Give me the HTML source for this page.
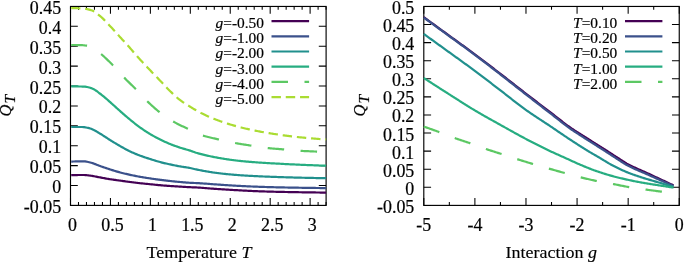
<!DOCTYPE html>
<html><head><meta charset="utf-8"><title>Q_T plots</title>
<style>html,body{margin:0;padding:0;background:#fff}svg{display:block}</style></head>
<body>
<svg width="685" height="262" viewBox="0 0 685 262" font-family="'Liberation Serif', serif" fill="#000" stroke="#000" stroke-width="0.2" paint-order="stroke">
<rect width="685" height="262" fill="#fff" stroke="none"/>
<path d="M70.50,205.40v-7.30M70.50,6.45v7.30M110.44,205.40v-7.30M110.44,6.45v7.30M150.37,205.40v-7.30M150.37,6.45v7.30M190.31,205.40v-7.30M190.31,6.45v7.30M230.24,205.40v-7.30M230.24,6.45v7.30M270.18,205.40v-7.30M270.18,6.45v7.30M310.11,205.40v-7.30M310.11,6.45v7.30M78.49,205.40v-3.40M78.49,6.45v3.40M86.47,205.40v-3.40M86.47,6.45v3.40M94.46,205.40v-3.40M94.46,6.45v3.40M102.45,205.40v-3.40M102.45,6.45v3.40M118.42,205.40v-3.40M118.42,6.45v3.40M126.41,205.40v-3.40M126.41,6.45v3.40M134.40,205.40v-3.40M134.40,6.45v3.40M142.38,205.40v-3.40M142.38,6.45v3.40M158.36,205.40v-3.40M158.36,6.45v3.40M166.34,205.40v-3.40M166.34,6.45v3.40M174.33,205.40v-3.40M174.33,6.45v3.40M182.32,205.40v-3.40M182.32,6.45v3.40M198.29,205.40v-3.40M198.29,6.45v3.40M206.28,205.40v-3.40M206.28,6.45v3.40M214.27,205.40v-3.40M214.27,6.45v3.40M222.25,205.40v-3.40M222.25,6.45v3.40M238.23,205.40v-3.40M238.23,6.45v3.40M246.21,205.40v-3.40M246.21,6.45v3.40M254.20,205.40v-3.40M254.20,6.45v3.40M262.19,205.40v-3.40M262.19,6.45v3.40M278.16,205.40v-3.40M278.16,6.45v3.40M286.15,205.40v-3.40M286.15,6.45v3.40M294.14,205.40v-3.40M294.14,6.45v3.40M302.12,205.40v-3.40M302.12,6.45v3.40M318.10,205.40v-3.40M318.10,6.45v3.40M326.08,205.40v-3.40M326.08,6.45v3.40M70.50,205.40h7.30M326.10,205.40h-7.30M70.50,185.50h7.30M326.10,185.50h-7.30M70.50,165.61h7.30M326.10,165.61h-7.30M70.50,145.72h7.30M326.10,145.72h-7.30M70.50,125.82h7.30M326.10,125.82h-7.30M70.50,105.93h7.30M326.10,105.93h-7.30M70.50,86.03h7.30M326.10,86.03h-7.30M70.50,66.14h7.30M326.10,66.14h-7.30M70.50,46.24h7.30M326.10,46.24h-7.30M70.50,26.34h7.30M326.10,26.34h-7.30M70.50,6.45h7.30M326.10,6.45h-7.30" fill="none" stroke="#000" stroke-width="1.05"/>
<rect x="70.50" y="6.45" width="255.60" height="198.95" fill="none" stroke="#000" stroke-width="1.15"/>
<g font-size="17.90" text-anchor="end">
<text transform="translate(61.1,212.90) scale(1,1.060)">-0.05</text>
<text transform="translate(61.1,193.00) scale(1,1.060)">0</text>
<text transform="translate(61.1,173.11) scale(1,1.060)">0.05</text>
<text transform="translate(61.1,153.22) scale(1,1.060)">0.1</text>
<text transform="translate(61.1,133.32) scale(1,1.060)">0.15</text>
<text transform="translate(61.1,113.43) scale(1,1.060)">0.2</text>
<text transform="translate(61.1,93.53) scale(1,1.060)">0.25</text>
<text transform="translate(61.1,73.64) scale(1,1.060)">0.3</text>
<text transform="translate(61.1,53.74) scale(1,1.060)">0.35</text>
<text transform="translate(61.1,33.84) scale(1,1.060)">0.4</text>
<text transform="translate(61.1,13.95) scale(1,1.060)">0.45</text>
</g>
<g font-size="17.90" text-anchor="middle">
<text transform="translate(72.50,231.1) scale(1,1.060)">0</text>
<text transform="translate(112.44,231.1) scale(1,1.060)">0.5</text>
<text transform="translate(152.37,231.1) scale(1,1.060)">1</text>
<text transform="translate(192.31,231.1) scale(1,1.060)">1.5</text>
<text transform="translate(232.24,231.1) scale(1,1.060)">2</text>
<text transform="translate(272.18,231.1) scale(1,1.060)">2.5</text>
<text transform="translate(312.11,231.1) scale(1,1.060)">3</text>
</g>
<text transform="translate(199.0,257.7) scale(1,0.970)" font-size="18.00" stroke-width="0.15" text-anchor="middle">Temperature <tspan font-style="italic">T</tspan></text>
<g transform="translate(11.00,116.50) rotate(-90)"><text x="0" y="0" font-size="16.4" font-style="italic">Q<tspan font-size="15.4" dx="1.1" dy="4.0">T</tspan></text></g>
<g fill="none" stroke-width="2.20" stroke-linejoin="round">
<path d="M71.20,175.20 L72.20,175.16 L73.20,175.12 L74.20,175.09 L75.20,175.06 L76.20,175.05 L77.20,175.03 L78.20,175.02 L79.20,175.01 L80.20,175.01 L81.20,175.00 L82.20,175.00 L83.20,175.00 L84.20,175.00 L85.20,175.04 L86.20,175.12 L87.20,175.23 L88.20,175.36 L89.20,175.50 L90.20,175.63 L91.20,175.77 L92.20,175.92 L93.20,176.10 L94.20,176.28 L95.20,176.47 L96.20,176.67 L97.20,176.87 L98.20,177.06 L99.20,177.25 L100.20,177.44 L101.20,177.62 L102.20,177.80 L103.20,177.99 L104.20,178.18 L105.20,178.37 L106.20,178.55 L107.20,178.73 L108.20,178.90 L109.20,179.07 L110.20,179.23 L111.20,179.38 L112.20,179.53 L113.20,179.67 L114.20,179.81 L115.20,179.95 L116.20,180.08 L117.20,180.22 L118.20,180.35 L119.20,180.49 L120.20,180.63 L121.20,180.77 L122.20,180.91 L123.20,181.06 L124.20,181.20 L125.20,181.34 L126.20,181.48 L127.20,181.62 L128.20,181.76 L129.20,181.90 L130.20,182.03 L131.20,182.15 L132.20,182.28 L133.20,182.41 L134.20,182.53 L135.20,182.65 L136.20,182.77 L137.20,182.89 L138.20,183.00 L139.20,183.11 L140.20,183.22 L141.20,183.33 L142.20,183.43 L143.20,183.53 L144.20,183.63 L145.20,183.73 L146.20,183.83 L147.20,183.93 L148.20,184.02 L149.20,184.12 L150.20,184.22 L151.20,184.32 L152.20,184.42 L153.20,184.53 L154.20,184.63 L155.20,184.73 L156.20,184.84 L157.20,184.94 L158.20,185.03 L159.20,185.13 L160.20,185.22 L161.20,185.31 L162.20,185.39 L163.20,185.48 L164.20,185.56 L165.20,185.64 L166.20,185.72 L167.20,185.80 L168.20,185.87 L169.20,185.94 L170.20,186.01 L171.20,186.08 L172.20,186.14 L173.20,186.20 L174.20,186.26 L175.20,186.32 L176.20,186.38 L177.20,186.44 L178.20,186.49 L179.20,186.55 L180.20,186.61 L181.20,186.67 L182.20,186.74 L183.20,186.80 L184.20,186.86 L185.20,186.93 L186.20,186.99 L187.20,187.05 L188.20,187.10 L189.20,187.16 L190.20,187.21 L191.20,187.26 L192.20,187.30 L193.20,187.34 L194.20,187.37 L195.20,187.42 L196.20,187.46 L197.20,187.51 L198.20,187.57 L199.20,187.63 L200.20,187.69 L201.20,187.76 L202.20,187.83 L203.20,187.91 L204.20,187.99 L205.20,188.07 L206.20,188.15 L207.20,188.23 L208.20,188.31 L209.20,188.40 L210.20,188.48 L211.20,188.56 L212.20,188.64 L213.20,188.72 L214.20,188.80 L215.20,188.87 L216.20,188.95 L217.20,189.01 L218.20,189.08 L219.20,189.14 L220.20,189.21 L221.20,189.27 L222.20,189.34 L223.20,189.40 L224.20,189.46 L225.20,189.52 L226.20,189.58 L227.20,189.64 L228.20,189.70 L229.20,189.76 L230.20,189.82 L231.20,189.88 L232.20,189.93 L233.20,189.99 L234.20,190.05 L235.20,190.10 L236.20,190.16 L237.20,190.21 L238.20,190.27 L239.20,190.32 L240.20,190.38 L241.20,190.43 L242.20,190.49 L243.20,190.54 L244.20,190.59 L245.20,190.65 L246.20,190.70 L247.20,190.75 L248.20,190.80 L249.20,190.85 L250.20,190.90 L251.20,190.95 L252.20,191.00 L253.20,191.04 L254.20,191.09 L255.20,191.13 L256.20,191.17 L257.20,191.21 L258.20,191.24 L259.20,191.28 L260.20,191.32 L261.20,191.35 L262.20,191.38 L263.20,191.42 L264.20,191.45 L265.20,191.48 L266.20,191.51 L267.20,191.54 L268.20,191.57 L269.20,191.60 L270.20,191.63 L271.20,191.65 L272.20,191.68 L273.20,191.71 L274.20,191.73 L275.20,191.76 L276.20,191.78 L277.20,191.80 L278.20,191.83 L279.20,191.85 L280.20,191.87 L281.20,191.90 L282.20,191.92 L283.20,191.94 L284.20,191.96 L285.20,191.98 L286.20,192.00 L287.20,192.02 L288.20,192.04 L289.20,192.06 L290.20,192.08 L291.20,192.10 L292.20,192.12 L293.20,192.14 L294.20,192.15 L295.20,192.17 L296.20,192.19 L297.20,192.20 L298.20,192.22 L299.20,192.24 L300.20,192.25 L301.20,192.27 L302.20,192.28 L303.20,192.30 L304.20,192.32 L305.20,192.33 L306.20,192.35 L307.20,192.36 L308.20,192.38 L309.20,192.39 L310.20,192.40 L311.20,192.42 L312.20,192.43 L313.20,192.45 L314.20,192.46 L315.20,192.47 L316.20,192.49 L317.20,192.50 L318.20,192.51 L319.20,192.52 L320.20,192.54 L321.20,192.55 L322.20,192.56 L323.20,192.57 L324.20,192.58 L325.20,192.59 L326.10,192.60" stroke="#440154"/>
<path d="M71.20,161.60 L72.20,161.56 L73.20,161.52 L74.20,161.49 L75.20,161.46 L76.20,161.45 L77.20,161.43 L78.20,161.42 L79.20,161.41 L80.20,161.41 L81.20,161.40 L82.20,161.40 L83.20,161.40 L84.20,161.40 L85.20,161.46 L86.20,161.59 L87.20,161.77 L88.20,161.99 L89.20,162.22 L90.20,162.45 L91.20,162.70 L92.20,163.01 L93.20,163.35 L94.20,163.73 L95.20,164.12 L96.20,164.52 L97.20,164.93 L98.20,165.33 L99.20,165.71 L100.20,166.07 L101.20,166.42 L102.20,166.77 L103.20,167.12 L104.20,167.46 L105.20,167.81 L106.20,168.15 L107.20,168.48 L108.20,168.82 L109.20,169.14 L110.20,169.46 L111.20,169.78 L112.20,170.10 L113.20,170.41 L114.20,170.72 L115.20,171.03 L116.20,171.33 L117.20,171.62 L118.20,171.91 L119.20,172.18 L120.20,172.45 L121.20,172.72 L122.20,172.97 L123.20,173.22 L124.20,173.47 L125.20,173.71 L126.20,173.94 L127.20,174.17 L128.20,174.40 L129.20,174.62 L130.20,174.84 L131.20,175.06 L132.20,175.27 L133.20,175.48 L134.20,175.69 L135.20,175.89 L136.20,176.09 L137.20,176.28 L138.20,176.47 L139.20,176.66 L140.20,176.84 L141.20,177.01 L142.20,177.18 L143.20,177.35 L144.20,177.51 L145.20,177.67 L146.20,177.82 L147.20,177.98 L148.20,178.13 L149.20,178.28 L150.20,178.43 L151.20,178.58 L152.20,178.72 L153.20,178.87 L154.20,179.01 L155.20,179.15 L156.20,179.29 L157.20,179.43 L158.20,179.56 L159.20,179.70 L160.20,179.83 L161.20,179.95 L162.20,180.08 L163.20,180.21 L164.20,180.33 L165.20,180.45 L166.20,180.57 L167.20,180.69 L168.20,180.80 L169.20,180.91 L170.20,181.02 L171.20,181.13 L172.20,181.24 L173.20,181.34 L174.20,181.44 L175.20,181.55 L176.20,181.64 L177.20,181.74 L178.20,181.84 L179.20,181.93 L180.20,182.02 L181.20,182.11 L182.20,182.20 L183.20,182.29 L184.20,182.37 L185.20,182.46 L186.20,182.54 L187.20,182.62 L188.20,182.69 L189.20,182.75 L190.20,182.81 L191.20,182.86 L192.20,182.90 L193.20,182.94 L194.20,182.98 L195.20,183.02 L196.20,183.06 L197.20,183.11 L198.20,183.16 L199.20,183.22 L200.20,183.28 L201.20,183.35 L202.20,183.41 L203.20,183.48 L204.20,183.55 L205.20,183.63 L206.20,183.70 L207.20,183.77 L208.20,183.85 L209.20,183.93 L210.20,184.00 L211.20,184.08 L212.20,184.15 L213.20,184.23 L214.20,184.30 L215.20,184.38 L216.20,184.45 L217.20,184.51 L218.20,184.58 L219.20,184.65 L220.20,184.72 L221.20,184.79 L222.20,184.86 L223.20,184.93 L224.20,184.99 L225.20,185.06 L226.20,185.13 L227.20,185.20 L228.20,185.27 L229.20,185.33 L230.20,185.40 L231.20,185.46 L232.20,185.52 L233.20,185.58 L234.20,185.64 L235.20,185.70 L236.20,185.76 L237.20,185.81 L238.20,185.86 L239.20,185.92 L240.20,185.97 L241.20,186.02 L242.20,186.07 L243.20,186.12 L244.20,186.16 L245.20,186.21 L246.20,186.26 L247.20,186.30 L248.20,186.35 L249.20,186.39 L250.20,186.43 L251.20,186.48 L252.20,186.52 L253.20,186.56 L254.20,186.60 L255.20,186.63 L256.20,186.67 L257.20,186.71 L258.20,186.74 L259.20,186.78 L260.20,186.81 L261.20,186.85 L262.20,186.88 L263.20,186.91 L264.20,186.94 L265.20,186.98 L266.20,187.01 L267.20,187.04 L268.20,187.07 L269.20,187.09 L270.20,187.12 L271.20,187.15 L272.20,187.18 L273.20,187.20 L274.20,187.23 L275.20,187.26 L276.20,187.28 L277.20,187.30 L278.20,187.33 L279.20,187.35 L280.20,187.37 L281.20,187.40 L282.20,187.42 L283.20,187.44 L284.20,187.46 L285.20,187.48 L286.20,187.50 L287.20,187.52 L288.20,187.54 L289.20,187.56 L290.20,187.58 L291.20,187.60 L292.20,187.62 L293.20,187.64 L294.20,187.65 L295.20,187.67 L296.20,187.69 L297.20,187.70 L298.20,187.72 L299.20,187.74 L300.20,187.75 L301.20,187.77 L302.20,187.78 L303.20,187.80 L304.20,187.82 L305.20,187.83 L306.20,187.85 L307.20,187.86 L308.20,187.88 L309.20,187.89 L310.20,187.90 L311.20,187.92 L312.20,187.93 L313.20,187.95 L314.20,187.96 L315.20,187.97 L316.20,187.99 L317.20,188.00 L318.20,188.01 L319.20,188.02 L320.20,188.04 L321.20,188.05 L322.20,188.06 L323.20,188.07 L324.20,188.08 L325.20,188.09 L326.10,188.10" stroke="#3b518b"/>
<path d="M71.20,127.00 L72.20,127.00 L73.20,127.00 L74.20,127.00 L75.20,127.00 L76.20,127.00 L77.20,127.00 L78.20,127.00 L79.20,127.00 L80.20,127.00 L81.20,127.00 L82.20,127.00 L83.20,127.05 L84.20,127.15 L85.20,127.30 L86.20,127.48 L87.20,127.70 L88.20,127.94 L89.20,128.19 L90.20,128.45 L91.20,128.77 L92.20,129.17 L93.20,129.64 L94.20,130.16 L95.20,130.72 L96.20,131.31 L97.20,131.92 L98.20,132.53 L99.20,133.13 L100.20,133.72 L101.20,134.31 L102.20,134.93 L103.20,135.56 L104.20,136.22 L105.20,136.88 L106.20,137.54 L107.20,138.20 L108.20,138.86 L109.20,139.50 L110.20,140.12 L111.20,140.74 L112.20,141.36 L113.20,141.97 L114.20,142.58 L115.20,143.18 L116.20,143.78 L117.20,144.38 L118.20,144.96 L119.20,145.54 L120.20,146.11 L121.20,146.68 L122.20,147.25 L123.20,147.82 L124.20,148.38 L125.20,148.93 L126.20,149.47 L127.20,150.00 L128.20,150.52 L129.20,151.02 L130.20,151.49 L131.20,151.96 L132.20,152.41 L133.20,152.85 L134.20,153.28 L135.20,153.70 L136.20,154.12 L137.20,154.52 L138.20,154.91 L139.20,155.30 L140.20,155.67 L141.20,156.04 L142.20,156.40 L143.20,156.76 L144.20,157.10 L145.20,157.44 L146.20,157.77 L147.20,158.10 L148.20,158.42 L149.20,158.74 L150.20,159.06 L151.20,159.38 L152.20,159.70 L153.20,160.01 L154.20,160.32 L155.20,160.63 L156.20,160.93 L157.20,161.22 L158.20,161.51 L159.20,161.78 L160.20,162.05 L161.20,162.32 L162.20,162.57 L163.20,162.82 L164.20,163.07 L165.20,163.31 L166.20,163.54 L167.20,163.77 L168.20,164.00 L169.20,164.22 L170.20,164.44 L171.20,164.66 L172.20,164.87 L173.20,165.08 L174.20,165.29 L175.20,165.49 L176.20,165.69 L177.20,165.88 L178.20,166.07 L179.20,166.26 L180.20,166.44 L181.20,166.60 L182.20,166.76 L183.20,166.92 L184.20,167.07 L185.20,167.21 L186.20,167.36 L187.20,167.52 L188.20,167.68 L189.20,167.85 L190.20,168.04 L191.20,168.25 L192.20,168.48 L193.20,168.72 L194.20,168.96 L195.20,169.20 L196.20,169.43 L197.20,169.64 L198.20,169.84 L199.20,170.04 L200.20,170.23 L201.20,170.42 L202.20,170.61 L203.20,170.80 L204.20,170.98 L205.20,171.17 L206.20,171.34 L207.20,171.52 L208.20,171.69 L209.20,171.86 L210.20,172.02 L211.20,172.18 L212.20,172.33 L213.20,172.48 L214.20,172.63 L215.20,172.76 L216.20,172.90 L217.20,173.03 L218.20,173.15 L219.20,173.27 L220.20,173.39 L221.20,173.51 L222.20,173.62 L223.20,173.73 L224.20,173.84 L225.20,173.94 L226.20,174.05 L227.20,174.15 L228.20,174.25 L229.20,174.34 L230.20,174.43 L231.20,174.52 L232.20,174.61 L233.20,174.70 L234.20,174.78 L235.20,174.86 L236.20,174.94 L237.20,175.01 L238.20,175.09 L239.20,175.16 L240.20,175.23 L241.20,175.30 L242.20,175.37 L243.20,175.43 L244.20,175.50 L245.20,175.56 L246.20,175.62 L247.20,175.68 L248.20,175.74 L249.20,175.79 L250.20,175.85 L251.20,175.90 L252.20,175.96 L253.20,176.01 L254.20,176.06 L255.20,176.11 L256.20,176.16 L257.20,176.21 L258.20,176.26 L259.20,176.30 L260.20,176.35 L261.20,176.39 L262.20,176.44 L263.20,176.48 L264.20,176.52 L265.20,176.56 L266.20,176.60 L267.20,176.64 L268.20,176.68 L269.20,176.72 L270.20,176.76 L271.20,176.79 L272.20,176.83 L273.20,176.87 L274.20,176.90 L275.20,176.94 L276.20,176.97 L277.20,177.01 L278.20,177.04 L279.20,177.07 L280.20,177.11 L281.20,177.14 L282.20,177.17 L283.20,177.21 L284.20,177.24 L285.20,177.27 L286.20,177.30 L287.20,177.33 L288.20,177.36 L289.20,177.39 L290.20,177.42 L291.20,177.45 L292.20,177.47 L293.20,177.50 L294.20,177.53 L295.20,177.55 L296.20,177.58 L297.20,177.60 L298.20,177.63 L299.20,177.65 L300.20,177.68 L301.20,177.70 L302.20,177.73 L303.20,177.75 L304.20,177.77 L305.20,177.80 L306.20,177.82 L307.20,177.84 L308.20,177.86 L309.20,177.88 L310.20,177.91 L311.20,177.93 L312.20,177.95 L313.20,177.97 L314.20,177.99 L315.20,178.01 L316.20,178.03 L317.20,178.05 L318.20,178.07 L319.20,178.09 L320.20,178.10 L321.20,178.12 L322.20,178.14 L323.20,178.15 L324.20,178.17 L325.20,178.19 L326.10,178.20" stroke="#21908d"/>
<path d="M71.20,86.40 L72.20,86.40 L73.20,86.40 L74.20,86.41 L75.20,86.42 L76.20,86.43 L77.20,86.44 L78.20,86.46 L79.20,86.48 L80.20,86.50 L81.20,86.52 L82.20,86.55 L83.20,86.58 L84.20,86.61 L85.20,86.69 L86.20,86.82 L87.20,87.01 L88.20,87.25 L89.20,87.52 L90.20,87.82 L91.20,88.14 L92.20,88.47 L93.20,88.89 L94.20,89.43 L95.20,90.06 L96.20,90.75 L97.20,91.48 L98.20,92.25 L99.20,93.01 L100.20,93.75 L101.20,94.50 L102.20,95.29 L103.20,96.10 L104.20,96.94 L105.20,97.80 L106.20,98.67 L107.20,99.54 L108.20,100.42 L109.20,101.30 L110.20,102.17 L111.20,103.05 L112.20,103.95 L113.20,104.85 L114.20,105.76 L115.20,106.67 L116.20,107.58 L117.20,108.49 L118.20,109.40 L119.20,110.29 L120.20,111.18 L121.20,112.06 L122.20,112.93 L123.20,113.81 L124.20,114.68 L125.20,115.55 L126.20,116.41 L127.20,117.26 L128.20,118.11 L129.20,118.94 L130.20,119.76 L131.20,120.58 L132.20,121.39 L133.20,122.20 L134.20,123.00 L135.20,123.79 L136.20,124.57 L137.20,125.33 L138.20,126.08 L139.20,126.82 L140.20,127.54 L141.20,128.25 L142.20,128.95 L143.20,129.64 L144.20,130.32 L145.20,130.98 L146.20,131.64 L147.20,132.28 L148.20,132.91 L149.20,133.52 L150.20,134.12 L151.20,134.70 L152.20,135.28 L153.20,135.84 L154.20,136.39 L155.20,136.93 L156.20,137.46 L157.20,137.98 L158.20,138.49 L159.20,139.00 L160.20,139.50 L161.20,139.99 L162.20,140.48 L163.20,140.97 L164.20,141.44 L165.20,141.91 L166.20,142.37 L167.20,142.81 L168.20,143.25 L169.20,143.67 L170.20,144.08 L171.20,144.48 L172.20,144.86 L173.20,145.24 L174.20,145.61 L175.20,145.97 L176.20,146.32 L177.20,146.66 L178.20,147.00 L179.20,147.34 L180.20,147.67 L181.20,147.98 L182.20,148.29 L183.20,148.59 L184.20,148.88 L185.20,149.17 L186.20,149.45 L187.20,149.74 L188.20,150.04 L189.20,150.35 L190.20,150.66 L191.20,151.00 L192.20,151.36 L193.20,151.72 L194.20,152.08 L195.20,152.43 L196.20,152.76 L197.20,153.06 L198.20,153.34 L199.20,153.61 L200.20,153.88 L201.20,154.14 L202.20,154.40 L203.20,154.65 L204.20,154.90 L205.20,155.14 L206.20,155.37 L207.20,155.60 L208.20,155.83 L209.20,156.05 L210.20,156.26 L211.20,156.47 L212.20,156.68 L213.20,156.88 L214.20,157.07 L215.20,157.27 L216.20,157.45 L217.20,157.64 L218.20,157.82 L219.20,157.99 L220.20,158.17 L221.20,158.34 L222.20,158.51 L223.20,158.67 L224.20,158.84 L225.20,158.99 L226.20,159.15 L227.20,159.30 L228.20,159.45 L229.20,159.60 L230.20,159.74 L231.20,159.88 L232.20,160.01 L233.20,160.14 L234.20,160.27 L235.20,160.39 L236.20,160.51 L237.20,160.62 L238.20,160.73 L239.20,160.84 L240.20,160.95 L241.20,161.05 L242.20,161.15 L243.20,161.25 L244.20,161.34 L245.20,161.44 L246.20,161.53 L247.20,161.62 L248.20,161.71 L249.20,161.79 L250.20,161.88 L251.20,161.96 L252.20,162.04 L253.20,162.12 L254.20,162.19 L255.20,162.27 L256.20,162.34 L257.20,162.41 L258.20,162.49 L259.20,162.55 L260.20,162.62 L261.20,162.69 L262.20,162.75 L263.20,162.81 L264.20,162.88 L265.20,162.94 L266.20,163.00 L267.20,163.06 L268.20,163.11 L269.20,163.17 L270.20,163.23 L271.20,163.28 L272.20,163.34 L273.20,163.39 L274.20,163.45 L275.20,163.50 L276.20,163.56 L277.20,163.61 L278.20,163.67 L279.20,163.72 L280.20,163.77 L281.20,163.83 L282.20,163.88 L283.20,163.93 L284.20,163.98 L285.20,164.03 L286.20,164.08 L287.20,164.14 L288.20,164.19 L289.20,164.23 L290.20,164.28 L291.20,164.33 L292.20,164.38 L293.20,164.43 L294.20,164.47 L295.20,164.52 L296.20,164.56 L297.20,164.61 L298.20,164.65 L299.20,164.70 L300.20,164.74 L301.20,164.78 L302.20,164.82 L303.20,164.87 L304.20,164.91 L305.20,164.95 L306.20,164.99 L307.20,165.03 L308.20,165.07 L309.20,165.11 L310.20,165.15 L311.20,165.19 L312.20,165.22 L313.20,165.26 L314.20,165.30 L315.20,165.34 L316.20,165.37 L317.20,165.41 L318.20,165.44 L319.20,165.48 L320.20,165.51 L321.20,165.54 L322.20,165.58 L323.20,165.61 L324.20,165.64 L325.20,165.67 L326.10,165.70" stroke="#27ad81"/>
<path d="M71.20,45.00 L72.20,45.00 L73.20,45.01 L74.20,45.01 L75.20,45.02 L76.20,45.03 L77.20,45.05 L78.20,45.07 L79.20,45.08 L80.20,45.10 L81.20,45.14 L82.20,45.19 L83.20,45.27 L84.20,45.36 L85.20,45.47 L86.20,45.59 L87.20,45.73 L88.20,45.95 L89.20,46.27 L90.20,46.67 L91.20,47.12 L92.20,47.60 L93.20,48.10 L94.20,48.67 L95.20,49.32 L96.20,50.05 L97.20,50.83 L98.20,51.64 L99.20,52.48 L100.20,53.33 L101.20,54.17 L102.20,55.02 L103.20,55.89 L104.20,56.79 L105.20,57.72 L106.20,58.66 L107.20,59.62 L108.20,60.59 L109.20,61.57 L110.20,62.57 L111.20,63.58 L112.20,64.59 L113.20,65.60 L114.20,66.64 L115.20,67.71 L116.20,68.80 L117.20,69.91 L118.20,71.03 L119.20,72.15 L120.20,73.27 L121.20,74.38 L122.20,75.48 L123.20,76.56 L124.20,77.61 L125.20,78.64 L126.20,79.65 L127.20,80.66 L128.20,81.65 L129.20,82.64 L130.20,83.62 L131.20,84.60 L132.20,85.59 L133.20,86.58 L134.20,87.58 L135.20,88.59 L136.20,89.62 L137.20,90.67 L138.20,91.74 L139.20,92.81 L140.20,93.90 L141.20,94.98 L142.20,96.06 L143.20,97.13 L144.20,98.18 L145.20,99.21 L146.20,100.22 L147.20,101.19 L148.20,102.15 L149.20,103.10 L150.20,104.04 L151.20,104.97 L152.20,105.89 L153.20,106.79 L154.20,107.68 L155.20,108.55 L156.20,109.40 L157.20,110.24 L158.20,111.05 L159.20,111.84 L160.20,112.62 L161.20,113.38 L162.20,114.13 L163.20,114.87 L164.20,115.59 L165.20,116.31 L166.20,117.01 L167.20,117.69 L168.20,118.36 L169.20,119.02 L170.20,119.66 L171.20,120.29 L172.20,120.89 L173.20,121.48 L174.20,122.06 L175.20,122.61 L176.20,123.15 L177.20,123.68 L178.20,124.19 L179.20,124.69 L180.20,125.19 L181.20,125.67 L182.20,126.15 L183.20,126.62 L184.20,127.09 L185.20,127.56 L186.20,128.03 L187.20,128.51 L188.20,128.98 L189.20,129.47 L190.20,129.96 L191.20,130.45 L192.20,130.95 L193.20,131.44 L194.20,131.93 L195.20,132.41 L196.20,132.88 L197.20,133.34 L198.20,133.78 L199.20,134.20 L200.20,134.60 L201.20,134.98 L202.20,135.34 L203.20,135.66 L204.20,135.97 L205.20,136.26 L206.20,136.53 L207.20,136.80 L208.20,137.05 L209.20,137.29 L210.20,137.53 L211.20,137.76 L212.20,137.98 L213.20,138.20 L214.20,138.42 L215.20,138.64 L216.20,138.86 L217.20,139.08 L218.20,139.31 L219.20,139.54 L220.20,139.77 L221.20,140.00 L222.20,140.24 L223.20,140.47 L224.20,140.70 L225.20,140.93 L226.20,141.16 L227.20,141.38 L228.20,141.60 L229.20,141.82 L230.20,142.04 L231.20,142.25 L232.20,142.45 L233.20,142.65 L234.20,142.85 L235.20,143.04 L236.20,143.22 L237.20,143.40 L238.20,143.57 L239.20,143.74 L240.20,143.91 L241.20,144.07 L242.20,144.23 L243.20,144.39 L244.20,144.55 L245.20,144.71 L246.20,144.86 L247.20,145.01 L248.20,145.17 L249.20,145.32 L250.20,145.48 L251.20,145.63 L252.20,145.79 L253.20,145.95 L254.20,146.11 L255.20,146.28 L256.20,146.44 L257.20,146.61 L258.20,146.77 L259.20,146.93 L260.20,147.08 L261.20,147.24 L262.20,147.38 L263.20,147.53 L264.20,147.66 L265.20,147.79 L266.20,147.91 L267.20,148.02 L268.20,148.13 L269.20,148.22 L270.20,148.32 L271.20,148.41 L272.20,148.50 L273.20,148.58 L274.20,148.66 L275.20,148.74 L276.20,148.82 L277.20,148.90 L278.20,148.97 L279.20,149.05 L280.20,149.13 L281.20,149.20 L282.20,149.28 L283.20,149.37 L284.20,149.45 L285.20,149.54 L286.20,149.63 L287.20,149.72 L288.20,149.81 L289.20,149.91 L290.20,150.00 L291.20,150.09 L292.20,150.19 L293.20,150.28 L294.20,150.36 L295.20,150.45 L296.20,150.53 L297.20,150.61 L298.20,150.68 L299.20,150.75 L300.20,150.81 L301.20,150.87 L302.20,150.93 L303.20,150.98 L304.20,151.03 L305.20,151.08 L306.20,151.13 L307.20,151.17 L308.20,151.22 L309.20,151.26 L310.20,151.31 L311.20,151.35 L312.20,151.39 L313.20,151.43 L314.20,151.48 L315.20,151.52 L316.20,151.56 L317.20,151.61 L318.20,151.65 L319.20,151.70 L320.20,151.74 L321.20,151.79 L322.20,151.83 L323.20,151.87 L324.20,151.92 L325.20,151.96 L326.10,152.00" stroke="#5cc863" stroke-dasharray="16.5 16.5" stroke-dashoffset="0.6"/>
<path d="M71.20,8.15 L72.20,8.15 L73.20,8.16 L74.20,8.17 L75.20,8.18 L76.20,8.20 L77.20,8.22 L78.20,8.25 L79.20,8.28 L80.20,8.31 L81.20,8.36 L82.20,8.44 L83.20,8.54 L84.20,8.65 L85.20,8.79 L86.20,8.93 L87.20,9.11 L88.20,9.32 L89.20,9.58 L90.20,9.88 L91.20,10.21 L92.20,10.58 L93.20,11.04 L94.20,11.60 L95.20,12.25 L96.20,12.97 L97.20,13.73 L98.20,14.53 L99.20,15.35 L100.20,16.16 L101.20,17.02 L102.20,17.93 L103.20,18.88 L104.20,19.88 L105.20,20.91 L106.20,21.96 L107.20,23.02 L108.20,24.09 L109.20,25.16 L110.20,26.21 L111.20,27.27 L112.20,28.35 L113.20,29.44 L114.20,30.55 L115.20,31.66 L116.20,32.77 L117.20,33.89 L118.20,35.01 L119.20,36.12 L120.20,37.22 L121.20,38.32 L122.20,39.41 L123.20,40.50 L124.20,41.58 L125.20,42.67 L126.20,43.77 L127.20,44.87 L128.20,45.98 L129.20,47.10 L130.20,48.23 L131.20,49.38 L132.20,50.56 L133.20,51.74 L134.20,52.92 L135.20,54.09 L136.20,55.23 L137.20,56.35 L138.20,57.46 L139.20,58.56 L140.20,59.65 L141.20,60.74 L142.20,61.81 L143.20,62.89 L144.20,63.96 L145.20,65.02 L146.20,66.09 L147.20,67.15 L148.20,68.21 L149.20,69.27 L150.20,70.32 L151.20,71.37 L152.20,72.41 L153.20,73.45 L154.20,74.48 L155.20,75.52 L156.20,76.55 L157.20,77.59 L158.20,78.62 L159.20,79.66 L160.20,80.71 L161.20,81.77 L162.20,82.84 L163.20,83.91 L164.20,84.99 L165.20,86.06 L166.20,87.12 L167.20,88.17 L168.20,89.21 L169.20,90.21 L170.20,91.19 L171.20,92.16 L172.20,93.12 L173.20,94.08 L174.20,95.02 L175.20,95.94 L176.20,96.84 L177.20,97.72 L178.20,98.57 L179.20,99.38 L180.20,100.15 L181.20,100.89 L182.20,101.60 L183.20,102.29 L184.20,102.95 L185.20,103.60 L186.20,104.24 L187.20,104.86 L188.20,105.48 L189.20,106.10 L190.20,106.72 L191.20,107.35 L192.20,107.97 L193.20,108.59 L194.20,109.21 L195.20,109.81 L196.20,110.40 L197.20,110.98 L198.20,111.54 L199.20,112.08 L200.20,112.60 L201.20,113.11 L202.20,113.60 L203.20,114.09 L204.20,114.57 L205.20,115.05 L206.20,115.51 L207.20,115.96 L208.20,116.41 L209.20,116.85 L210.20,117.28 L211.20,117.71 L212.20,118.12 L213.20,118.53 L214.20,118.93 L215.20,119.32 L216.20,119.70 L217.20,120.07 L218.20,120.44 L219.20,120.81 L220.20,121.17 L221.20,121.52 L222.20,121.87 L223.20,122.21 L224.20,122.55 L225.20,122.88 L226.20,123.20 L227.20,123.53 L228.20,123.84 L229.20,124.15 L230.20,124.46 L231.20,124.76 L232.20,125.06 L233.20,125.35 L234.20,125.63 L235.20,125.91 L236.20,126.18 L237.20,126.45 L238.20,126.72 L239.20,126.98 L240.20,127.24 L241.20,127.49 L242.20,127.74 L243.20,127.98 L244.20,128.22 L245.20,128.46 L246.20,128.70 L247.20,128.93 L248.20,129.15 L249.20,129.38 L250.20,129.60 L251.20,129.81 L252.20,130.02 L253.20,130.23 L254.20,130.44 L255.20,130.64 L256.20,130.84 L257.20,131.04 L258.20,131.23 L259.20,131.42 L260.20,131.61 L261.20,131.80 L262.20,131.98 L263.20,132.16 L264.20,132.34 L265.20,132.51 L266.20,132.68 L267.20,132.85 L268.20,133.02 L269.20,133.19 L270.20,133.35 L271.20,133.51 L272.20,133.67 L273.20,133.83 L274.20,133.98 L275.20,134.13 L276.20,134.28 L277.20,134.43 L278.20,134.58 L279.20,134.72 L280.20,134.87 L281.20,135.01 L282.20,135.15 L283.20,135.29 L284.20,135.43 L285.20,135.56 L286.20,135.70 L287.20,135.83 L288.20,135.96 L289.20,136.09 L290.20,136.21 L291.20,136.34 L292.20,136.46 L293.20,136.58 L294.20,136.69 L295.20,136.80 L296.20,136.91 L297.20,137.02 L298.20,137.13 L299.20,137.23 L300.20,137.33 L301.20,137.43 L302.20,137.52 L303.20,137.62 L304.20,137.71 L305.20,137.80 L306.20,137.89 L307.20,137.98 L308.20,138.07 L309.20,138.15 L310.20,138.24 L311.20,138.32 L312.20,138.40 L313.20,138.49 L314.20,138.57 L315.20,138.65 L316.20,138.73 L317.20,138.82 L318.20,138.90 L319.20,138.98 L320.20,139.06 L321.20,139.13 L322.20,139.21 L323.20,139.29 L324.20,139.36 L325.20,139.43 L326.10,139.50" stroke="#aadc32" stroke-dasharray="9.42 4.85" stroke-dashoffset="0.2"/>
</g>
<g font-size="15.40" text-anchor="end">
<text transform="translate(264,28.00) scale(1,1.000)"><tspan font-style="italic">g</tspan>=-0.50</text>
<text transform="translate(264,43.20) scale(1,1.000)"><tspan font-style="italic">g</tspan>=-1.00</text>
<text transform="translate(264,58.40) scale(1,1.000)"><tspan font-style="italic">g</tspan>=-2.00</text>
<text transform="translate(264,73.60) scale(1,1.000)"><tspan font-style="italic">g</tspan>=-3.00</text>
<text transform="translate(264,88.80) scale(1,1.000)"><tspan font-style="italic">g</tspan>=-4.00</text>
<text transform="translate(264,104.00) scale(1,1.000)"><tspan font-style="italic">g</tspan>=-5.00</text>
</g>
<g fill="none" stroke-width="2.20">
<path d="M271.5,21.10H309.1" stroke="#440154"/>
<path d="M271.5,36.30H309.1" stroke="#3b518b"/>
<path d="M271.5,51.50H309.1" stroke="#21908d"/>
<path d="M271.5,66.70H309.1" stroke="#27ad81"/>
<path d="M271.5,81.90H309.1" stroke="#5cc863" stroke-dasharray="16.5 16.5"/>
<path d="M271.5,97.10H309.1" stroke="#aadc32" stroke-dasharray="9.42 4.85"/>
</g>
<path d="M423.80,205.40v-7.30M423.80,6.45v7.30M474.89,205.40v-7.30M474.89,6.45v7.30M525.98,205.40v-7.30M525.98,6.45v7.30M577.07,205.40v-7.30M577.07,6.45v7.30M628.16,205.40v-7.30M628.16,6.45v7.30M679.25,205.40v-7.30M679.25,6.45v7.30M449.34,205.40v-3.40M449.34,6.45v3.40M500.44,205.40v-3.40M500.44,6.45v3.40M551.52,205.40v-3.40M551.52,6.45v3.40M602.62,205.40v-3.40M602.62,6.45v3.40M653.71,205.40v-3.40M653.71,6.45v3.40M423.80,205.40h7.30M679.25,205.40h-7.30M423.80,187.31h7.30M679.25,187.31h-7.30M423.80,169.23h7.30M679.25,169.23h-7.30M423.80,151.14h7.30M679.25,151.14h-7.30M423.80,133.06h7.30M679.25,133.06h-7.30M423.80,114.98h7.30M679.25,114.98h-7.30M423.80,96.89h7.30M679.25,96.89h-7.30M423.80,78.81h7.30M679.25,78.81h-7.30M423.80,60.72h7.30M679.25,60.72h-7.30M423.80,42.64h7.30M679.25,42.64h-7.30M423.80,24.55h7.30M679.25,24.55h-7.30M423.80,6.47h7.30M679.25,6.47h-7.30" fill="none" stroke="#000" stroke-width="1.05"/>
<rect x="423.80" y="6.45" width="255.45" height="198.95" fill="none" stroke="#000" stroke-width="1.15"/>
<g font-size="17.90" text-anchor="end">
<text transform="translate(414.3,212.90) scale(1,1.060)">-0.05</text>
<text transform="translate(414.3,194.81) scale(1,1.060)">0</text>
<text transform="translate(414.3,176.73) scale(1,1.060)">0.05</text>
<text transform="translate(414.3,158.64) scale(1,1.060)">0.1</text>
<text transform="translate(414.3,140.56) scale(1,1.060)">0.15</text>
<text transform="translate(414.3,122.48) scale(1,1.060)">0.2</text>
<text transform="translate(414.3,104.39) scale(1,1.060)">0.25</text>
<text transform="translate(414.3,86.31) scale(1,1.060)">0.3</text>
<text transform="translate(414.3,68.22) scale(1,1.060)">0.35</text>
<text transform="translate(414.3,50.14) scale(1,1.060)">0.4</text>
<text transform="translate(414.3,32.05) scale(1,1.060)">0.45</text>
<text transform="translate(414.3,13.97) scale(1,1.060)">0.5</text>
</g>
<g font-size="17.90" text-anchor="middle">
<text transform="translate(423.80,231.1) scale(1,1.060)">-5</text>
<text transform="translate(474.89,231.1) scale(1,1.060)">-4</text>
<text transform="translate(525.98,231.1) scale(1,1.060)">-3</text>
<text transform="translate(577.07,231.1) scale(1,1.060)">-2</text>
<text transform="translate(628.16,231.1) scale(1,1.060)">-1</text>
<text transform="translate(679.25,231.1) scale(1,1.060)">0</text>
</g>
<text transform="translate(551.2,257.7) scale(1,0.970)" font-size="18.00" stroke-width="0.15" text-anchor="middle">Interaction <tspan font-style="italic">g</tspan></text>
<g transform="translate(364.70,116.50) rotate(-90)"><text x="0" y="0" font-size="16.4" font-style="italic">Q<tspan font-size="15.4" dx="1.1" dy="4.0">T</tspan></text></g>
<g fill="none" stroke-width="2.20" stroke-linejoin="round">
<path d="M423.80,17.22 L424.80,17.95 L425.80,18.67 L426.80,19.40 L427.80,20.13 L428.80,20.85 L429.80,21.58 L430.80,22.30 L431.80,23.03 L432.80,23.75 L433.80,24.48 L434.80,25.21 L435.80,25.93 L436.80,26.66 L437.80,27.38 L438.80,28.11 L439.80,28.84 L440.80,29.56 L441.80,30.29 L442.80,31.02 L443.80,31.74 L444.80,32.47 L445.80,33.20 L446.80,33.92 L447.80,34.65 L448.80,35.38 L449.80,36.10 L450.80,36.83 L451.80,37.56 L452.80,38.28 L453.80,39.00 L454.80,39.73 L455.80,40.45 L456.80,41.17 L457.80,41.89 L458.80,42.62 L459.80,43.34 L460.80,44.06 L461.80,44.79 L462.80,45.51 L463.80,46.23 L464.80,46.96 L465.80,47.69 L466.80,48.42 L467.80,49.14 L468.80,49.88 L469.80,50.61 L470.80,51.34 L471.80,52.08 L472.80,52.82 L473.80,53.56 L474.80,54.30 L475.80,55.05 L476.80,55.79 L477.80,56.54 L478.80,57.30 L479.80,58.05 L480.80,58.80 L481.80,59.56 L482.80,60.32 L483.80,61.08 L484.80,61.84 L485.80,62.60 L486.80,63.37 L487.80,64.13 L488.80,64.90 L489.80,65.67 L490.80,66.43 L491.80,67.20 L492.80,67.97 L493.80,68.74 L494.80,69.51 L495.80,70.28 L496.80,71.05 L497.80,71.82 L498.80,72.59 L499.80,73.36 L500.80,74.13 L501.80,74.90 L502.80,75.67 L503.80,76.44 L504.80,77.22 L505.80,77.99 L506.80,78.77 L507.80,79.55 L508.80,80.33 L509.80,81.10 L510.80,81.88 L511.80,82.66 L512.80,83.44 L513.80,84.22 L514.80,85.00 L515.80,85.78 L516.80,86.56 L517.80,87.34 L518.80,88.12 L519.80,88.90 L520.80,89.67 L521.80,90.45 L522.80,91.23 L523.80,92.00 L524.80,92.77 L525.80,93.55 L526.80,94.32 L527.80,95.09 L528.80,95.86 L529.80,96.63 L530.80,97.39 L531.80,98.16 L532.80,98.93 L533.80,99.70 L534.80,100.46 L535.80,101.23 L536.80,101.99 L537.80,102.76 L538.80,103.52 L539.80,104.29 L540.80,105.05 L541.80,105.82 L542.80,106.58 L543.80,107.34 L544.80,108.11 L545.80,108.87 L546.80,109.63 L547.80,110.40 L548.80,111.16 L549.80,111.92 L550.80,112.69 L551.80,113.45 L552.80,114.22 L553.80,114.99 L554.80,115.77 L555.80,116.55 L556.80,117.33 L557.80,118.12 L558.80,118.90 L559.80,119.68 L560.80,120.46 L561.80,121.24 L562.80,122.01 L563.80,122.77 L564.80,123.53 L565.80,124.28 L566.80,125.02 L567.80,125.76 L568.80,126.48 L569.80,127.19 L570.80,127.88 L571.80,128.56 L572.80,129.24 L573.80,129.90 L574.80,130.55 L575.80,131.20 L576.80,131.84 L577.80,132.48 L578.80,133.12 L579.80,133.76 L580.80,134.40 L581.80,135.04 L582.80,135.67 L583.80,136.30 L584.80,136.93 L585.80,137.55 L586.80,138.18 L587.80,138.80 L588.80,139.43 L589.80,140.05 L590.80,140.68 L591.80,141.31 L592.80,141.93 L593.80,142.56 L594.80,143.19 L595.80,143.81 L596.80,144.44 L597.80,145.07 L598.80,145.69 L599.80,146.32 L600.80,146.95 L601.80,147.58 L602.80,148.21 L603.80,148.85 L604.80,149.49 L605.80,150.13 L606.80,150.77 L607.80,151.42 L608.80,152.07 L609.80,152.72 L610.80,153.37 L611.80,154.02 L612.80,154.66 L613.80,155.31 L614.80,155.96 L615.80,156.60 L616.80,157.24 L617.80,157.88 L618.80,158.54 L619.80,159.20 L620.80,159.86 L621.80,160.51 L622.80,161.17 L623.80,161.80 L624.80,162.43 L625.80,163.03 L626.80,163.61 L627.80,164.16 L628.80,164.69 L629.80,165.21 L630.80,165.71 L631.80,166.21 L632.80,166.69 L633.80,167.16 L634.80,167.62 L635.80,168.08 L636.80,168.53 L637.80,168.97 L638.80,169.41 L639.80,169.85 L640.80,170.29 L641.80,170.73 L642.80,171.16 L643.80,171.60 L644.80,172.05 L645.80,172.49 L646.80,172.95 L647.80,173.41 L648.80,173.87 L649.80,174.34 L650.80,174.80 L651.80,175.27 L652.80,175.73 L653.80,176.20 L654.80,176.66 L655.80,177.13 L656.80,177.60 L657.80,178.06 L658.80,178.53 L659.80,178.99 L660.80,179.46 L661.80,179.93 L662.80,180.39 L663.80,180.86 L664.80,181.33 L665.80,181.79 L666.80,182.26 L667.80,182.73 L668.80,183.20 L669.80,183.66 L670.80,184.13 L671.80,184.60 L672.80,185.07 L673.50,185.39" stroke="#440154"/>
<path d="M423.80,17.58 L424.80,18.30 L425.80,19.03 L426.80,19.76 L427.80,20.49 L428.80,21.22 L429.80,21.95 L430.80,22.68 L431.80,23.40 L432.80,24.13 L433.80,24.86 L434.80,25.59 L435.80,26.32 L436.80,27.05 L437.80,27.78 L438.80,28.51 L439.80,29.24 L440.80,29.97 L441.80,30.69 L442.80,31.42 L443.80,32.15 L444.80,32.88 L445.80,33.61 L446.80,34.34 L447.80,35.07 L448.80,35.80 L449.80,36.53 L450.80,37.26 L451.80,37.99 L452.80,38.72 L453.80,39.44 L454.80,40.17 L455.80,40.89 L456.80,41.62 L457.80,42.34 L458.80,43.07 L459.80,43.79 L460.80,44.52 L461.80,45.24 L462.80,45.97 L463.80,46.70 L464.80,47.43 L465.80,48.16 L466.80,48.89 L467.80,49.62 L468.80,50.35 L469.80,51.09 L470.80,51.83 L471.80,52.57 L472.80,53.31 L473.80,54.05 L474.80,54.80 L475.80,55.55 L476.80,56.30 L477.80,57.06 L478.80,57.81 L479.80,58.57 L480.80,59.33 L481.80,60.10 L482.80,60.86 L483.80,61.63 L484.80,62.39 L485.80,63.16 L486.80,63.93 L487.80,64.70 L488.80,65.48 L489.80,66.25 L490.80,67.02 L491.80,67.80 L492.80,68.57 L493.80,69.35 L494.80,70.12 L495.80,70.90 L496.80,71.68 L497.80,72.45 L498.80,73.23 L499.80,74.00 L500.80,74.78 L501.80,75.56 L502.80,76.33 L503.80,77.11 L504.80,77.89 L505.80,78.67 L506.80,79.46 L507.80,80.24 L508.80,81.02 L509.80,81.81 L510.80,82.59 L511.80,83.38 L512.80,84.16 L513.80,84.95 L514.80,85.73 L515.80,86.52 L516.80,87.30 L517.80,88.09 L518.80,88.87 L519.80,89.66 L520.80,90.44 L521.80,91.22 L522.80,92.00 L523.80,92.79 L524.80,93.57 L525.80,94.34 L526.80,95.12 L527.80,95.90 L528.80,96.68 L529.80,97.45 L530.80,98.23 L531.80,99.00 L532.80,99.78 L533.80,100.55 L534.80,101.33 L535.80,102.10 L536.80,102.87 L537.80,103.65 L538.80,104.42 L539.80,105.19 L540.80,105.97 L541.80,106.74 L542.80,107.51 L543.80,108.28 L544.80,109.05 L545.80,109.82 L546.80,110.60 L547.80,111.37 L548.80,112.14 L549.80,112.91 L550.80,113.68 L551.80,114.45 L552.80,115.23 L553.80,116.01 L554.80,116.80 L555.80,117.59 L556.80,118.38 L557.80,119.17 L558.80,119.96 L559.80,120.75 L560.80,121.53 L561.80,122.32 L562.80,123.10 L563.80,123.87 L564.80,124.64 L565.80,125.39 L566.80,126.14 L567.80,126.88 L568.80,127.61 L569.80,128.33 L570.80,129.03 L571.80,129.72 L572.80,130.40 L573.80,131.07 L574.80,131.73 L575.80,132.39 L576.80,133.04 L577.80,133.69 L578.80,134.33 L579.80,134.98 L580.80,135.63 L581.80,136.28 L582.80,136.92 L583.80,137.56 L584.80,138.20 L585.80,138.83 L586.80,139.47 L587.80,140.10 L588.80,140.74 L589.80,141.37 L590.80,142.00 L591.80,142.64 L592.80,143.28 L593.80,143.92 L594.80,144.55 L595.80,145.19 L596.80,145.82 L597.80,146.46 L598.80,147.10 L599.80,147.74 L600.80,148.37 L601.80,149.01 L602.80,149.65 L603.80,150.29 L604.80,150.94 L605.80,151.58 L606.80,152.23 L607.80,152.88 L608.80,153.53 L609.80,154.18 L610.80,154.83 L611.80,155.48 L612.80,156.13 L613.80,156.78 L614.80,157.42 L615.80,158.06 L616.80,158.70 L617.80,159.34 L618.80,159.99 L619.80,160.65 L620.80,161.30 L621.80,161.96 L622.80,162.60 L623.80,163.24 L624.80,163.85 L625.80,164.45 L626.80,165.02 L627.80,165.56 L628.80,166.08 L629.80,166.59 L630.80,167.09 L631.80,167.57 L632.80,168.05 L633.80,168.51 L634.80,168.97 L635.80,169.42 L636.80,169.86 L637.80,170.29 L638.80,170.73 L639.80,171.16 L640.80,171.58 L641.80,172.01 L642.80,172.44 L643.80,172.86 L644.80,173.29 L645.80,173.73 L646.80,174.17 L647.80,174.61 L648.80,175.06 L649.80,175.51 L650.80,175.95 L651.80,176.40 L652.80,176.85 L653.80,177.30 L654.80,177.74 L655.80,178.19 L656.80,178.63 L657.80,179.08 L658.80,179.52 L659.80,179.97 L660.80,180.41 L661.80,180.85 L662.80,181.30 L663.80,181.74 L664.80,182.18 L665.80,182.62 L666.80,183.06 L667.80,183.50 L668.80,183.94 L669.80,184.38 L670.80,184.82 L671.80,185.26 L672.80,185.70 L673.50,186.01" stroke="#3b518b"/>
<path d="M423.80,34.00 L424.80,34.72 L425.80,35.43 L426.80,36.15 L427.80,36.87 L428.80,37.59 L429.80,38.31 L430.80,39.02 L431.80,39.74 L432.80,40.46 L433.80,41.18 L434.80,41.90 L435.80,42.62 L436.80,43.34 L437.80,44.06 L438.80,44.78 L439.80,45.50 L440.80,46.22 L441.80,46.94 L442.80,47.66 L443.80,48.38 L444.80,49.11 L445.80,49.83 L446.80,50.55 L447.80,51.27 L448.80,51.99 L449.80,52.72 L450.80,53.44 L451.80,54.16 L452.80,54.88 L453.80,55.60 L454.80,56.32 L455.80,57.04 L456.80,57.76 L457.80,58.48 L458.80,59.20 L459.80,59.92 L460.80,60.64 L461.80,61.36 L462.80,62.08 L463.80,62.80 L464.80,63.53 L465.80,64.25 L466.80,64.98 L467.80,65.71 L468.80,66.44 L469.80,67.17 L470.80,67.90 L471.80,68.63 L472.80,69.37 L473.80,70.11 L474.80,70.85 L475.80,71.60 L476.80,72.34 L477.80,73.09 L478.80,73.84 L479.80,74.60 L480.80,75.35 L481.80,76.11 L482.80,76.87 L483.80,77.63 L484.80,78.39 L485.80,79.15 L486.80,79.92 L487.80,80.68 L488.80,81.45 L489.80,82.21 L490.80,82.98 L491.80,83.75 L492.80,84.52 L493.80,85.28 L494.80,86.05 L495.80,86.82 L496.80,87.59 L497.80,88.36 L498.80,89.12 L499.80,89.89 L500.80,90.65 L501.80,91.42 L502.80,92.19 L503.80,92.97 L504.80,93.75 L505.80,94.53 L506.80,95.31 L507.80,96.10 L508.80,96.88 L509.80,97.67 L510.80,98.45 L511.80,99.24 L512.80,100.02 L513.80,100.80 L514.80,101.58 L515.80,102.36 L516.80,103.13 L517.80,103.90 L518.80,104.67 L519.80,105.43 L520.80,106.18 L521.80,106.93 L522.80,107.68 L523.80,108.41 L524.80,109.14 L525.80,109.86 L526.80,110.57 L527.80,111.27 L528.80,111.97 L529.80,112.66 L530.80,113.34 L531.80,114.02 L532.80,114.69 L533.80,115.36 L534.80,116.02 L535.80,116.68 L536.80,117.34 L537.80,118.00 L538.80,118.65 L539.80,119.30 L540.80,119.95 L541.80,120.60 L542.80,121.26 L543.80,121.91 L544.80,122.56 L545.80,123.22 L546.80,123.87 L547.80,124.53 L548.80,125.20 L549.80,125.87 L550.80,126.54 L551.80,127.21 L552.80,127.89 L553.80,128.57 L554.80,129.25 L555.80,129.93 L556.80,130.61 L557.80,131.29 L558.80,131.97 L559.80,132.65 L560.80,133.33 L561.80,134.01 L562.80,134.69 L563.80,135.37 L564.80,136.04 L565.80,136.71 L566.80,137.38 L567.80,138.05 L568.80,138.71 L569.80,139.37 L570.80,140.02 L571.80,140.68 L572.80,141.33 L573.80,141.99 L574.80,142.64 L575.80,143.29 L576.80,143.94 L577.80,144.59 L578.80,145.23 L579.80,145.87 L580.80,146.51 L581.80,147.15 L582.80,147.78 L583.80,148.41 L584.80,149.03 L585.80,149.65 L586.80,150.27 L587.80,150.88 L588.80,151.48 L589.80,152.08 L590.80,152.67 L591.80,153.25 L592.80,153.83 L593.80,154.41 L594.80,154.98 L595.80,155.56 L596.80,156.13 L597.80,156.71 L598.80,157.29 L599.80,157.88 L600.80,158.48 L601.80,159.09 L602.80,159.70 L603.80,160.32 L604.80,160.94 L605.80,161.55 L606.80,162.16 L607.80,162.75 L608.80,163.33 L609.80,163.89 L610.80,164.43 L611.80,164.97 L612.80,165.50 L613.80,166.02 L614.80,166.54 L615.80,167.06 L616.80,167.56 L617.80,168.06 L618.80,168.55 L619.80,169.03 L620.80,169.50 L621.80,169.97 L622.80,170.42 L623.80,170.86 L624.80,171.30 L625.80,171.72 L626.80,172.13 L627.80,172.53 L628.80,172.92 L629.80,173.30 L630.80,173.68 L631.80,174.05 L632.80,174.41 L633.80,174.77 L634.80,175.12 L635.80,175.46 L636.80,175.80 L637.80,176.14 L638.80,176.48 L639.80,176.81 L640.80,177.13 L641.80,177.46 L642.80,177.78 L643.80,178.09 L644.80,178.40 L645.80,178.71 L646.80,179.01 L647.80,179.30 L648.80,179.60 L649.80,179.89 L650.80,180.18 L651.80,180.47 L652.80,180.76 L653.80,181.05 L654.80,181.34 L655.80,181.64 L656.80,181.93 L657.80,182.22 L658.80,182.52 L659.80,182.81 L660.80,183.11 L661.80,183.40 L662.80,183.69 L663.80,183.99 L664.80,184.28 L665.80,184.57 L666.80,184.86 L667.80,185.15 L668.80,185.44 L669.80,185.73 L670.80,186.02 L671.80,186.31 L672.80,186.60 L673.50,186.80" stroke="#21908d"/>
<path d="M423.80,78.00 L424.80,78.65 L425.80,79.30 L426.80,79.95 L427.80,80.59 L428.80,81.24 L429.80,81.89 L430.80,82.53 L431.80,83.18 L432.80,83.82 L433.80,84.47 L434.80,85.11 L435.80,85.75 L436.80,86.39 L437.80,87.04 L438.80,87.68 L439.80,88.32 L440.80,88.96 L441.80,89.60 L442.80,90.23 L443.80,90.87 L444.80,91.51 L445.80,92.15 L446.80,92.78 L447.80,93.42 L448.80,94.06 L449.80,94.69 L450.80,95.33 L451.80,95.96 L452.80,96.60 L453.80,97.24 L454.80,97.88 L455.80,98.52 L456.80,99.15 L457.80,99.79 L458.80,100.43 L459.80,101.07 L460.80,101.70 L461.80,102.34 L462.80,102.97 L463.80,103.61 L464.80,104.24 L465.80,104.86 L466.80,105.49 L467.80,106.11 L468.80,106.73 L469.80,107.35 L470.80,107.96 L471.80,108.57 L472.80,109.18 L473.80,109.78 L474.80,110.38 L475.80,110.98 L476.80,111.57 L477.80,112.15 L478.80,112.74 L479.80,113.32 L480.80,113.89 L481.80,114.47 L482.80,115.04 L483.80,115.61 L484.80,116.18 L485.80,116.74 L486.80,117.31 L487.80,117.87 L488.80,118.43 L489.80,118.99 L490.80,119.55 L491.80,120.10 L492.80,120.66 L493.80,121.22 L494.80,121.77 L495.80,122.33 L496.80,122.88 L497.80,123.44 L498.80,124.00 L499.80,124.55 L500.80,125.11 L501.80,125.67 L502.80,126.23 L503.80,126.79 L504.80,127.35 L505.80,127.91 L506.80,128.47 L507.80,129.03 L508.80,129.59 L509.80,130.14 L510.80,130.70 L511.80,131.26 L512.80,131.81 L513.80,132.37 L514.80,132.92 L515.80,133.47 L516.80,134.02 L517.80,134.57 L518.80,135.12 L519.80,135.67 L520.80,136.21 L521.80,136.75 L522.80,137.29 L523.80,137.83 L524.80,138.36 L525.80,138.89 L526.80,139.42 L527.80,139.95 L528.80,140.48 L529.80,141.00 L530.80,141.52 L531.80,142.04 L532.80,142.55 L533.80,143.07 L534.80,143.58 L535.80,144.09 L536.80,144.60 L537.80,145.10 L538.80,145.60 L539.80,146.10 L540.80,146.60 L541.80,147.09 L542.80,147.58 L543.80,148.07 L544.80,148.56 L545.80,149.05 L546.80,149.53 L547.80,150.01 L548.80,150.48 L549.80,150.96 L550.80,151.43 L551.80,151.89 L552.80,152.36 L553.80,152.81 L554.80,153.27 L555.80,153.72 L556.80,154.16 L557.80,154.61 L558.80,155.06 L559.80,155.51 L560.80,155.96 L561.80,156.41 L562.80,156.86 L563.80,157.31 L564.80,157.76 L565.80,158.21 L566.80,158.66 L567.80,159.11 L568.80,159.56 L569.80,160.02 L570.80,160.47 L571.80,160.93 L572.80,161.39 L573.80,161.85 L574.80,162.30 L575.80,162.76 L576.80,163.21 L577.80,163.65 L578.80,164.09 L579.80,164.52 L580.80,164.94 L581.80,165.36 L582.80,165.78 L583.80,166.20 L584.80,166.62 L585.80,167.03 L586.80,167.44 L587.80,167.84 L588.80,168.24 L589.80,168.64 L590.80,169.03 L591.80,169.41 L592.80,169.79 L593.80,170.16 L594.80,170.52 L595.80,170.88 L596.80,171.23 L597.80,171.57 L598.80,171.91 L599.80,172.25 L600.80,172.58 L601.80,172.91 L602.80,173.23 L603.80,173.55 L604.80,173.86 L605.80,174.17 L606.80,174.47 L607.80,174.77 L608.80,175.06 L609.80,175.35 L610.80,175.63 L611.80,175.90 L612.80,176.18 L613.80,176.44 L614.80,176.71 L615.80,176.96 L616.80,177.22 L617.80,177.47 L618.80,177.72 L619.80,177.96 L620.80,178.20 L621.80,178.44 L622.80,178.67 L623.80,178.90 L624.80,179.13 L625.80,179.36 L626.80,179.58 L627.80,179.80 L628.80,180.02 L629.80,180.23 L630.80,180.44 L631.80,180.65 L632.80,180.86 L633.80,181.06 L634.80,181.26 L635.80,181.46 L636.80,181.66 L637.80,181.85 L638.80,182.04 L639.80,182.23 L640.80,182.41 L641.80,182.59 L642.80,182.77 L643.80,182.94 L644.80,183.11 L645.80,183.27 L646.80,183.44 L647.80,183.60 L648.80,183.76 L649.80,183.92 L650.80,184.08 L651.80,184.23 L652.80,184.39 L653.80,184.54 L654.80,184.70 L655.80,184.86 L656.80,185.02 L657.80,185.17 L658.80,185.33 L659.80,185.49 L660.80,185.65 L661.80,185.80 L662.80,185.96 L663.80,186.11 L664.80,186.27 L665.80,186.42 L666.80,186.58 L667.80,186.73 L668.80,186.89 L669.80,187.04 L670.80,187.19 L671.80,187.34 L672.80,187.49 L673.50,187.60" stroke="#27ad81"/>
<path d="M423.80,126.60 L424.80,126.94 L425.80,127.29 L426.80,127.63 L427.80,127.98 L428.80,128.33 L429.80,128.68 L430.80,129.03 L431.80,129.39 L432.80,129.75 L433.80,130.10 L434.80,130.46 L435.80,130.83 L436.80,131.19 L437.80,131.56 L438.80,131.93 L439.80,132.30 L440.80,132.68 L441.80,133.06 L442.80,133.45 L443.80,133.84 L444.80,134.23 L445.80,134.62 L446.80,135.02 L447.80,135.41 L448.80,135.81 L449.80,136.20 L450.80,136.58 L451.80,136.96 L452.80,137.34 L453.80,137.71 L454.80,138.07 L455.80,138.43 L456.80,138.78 L457.80,139.12 L458.80,139.46 L459.80,139.79 L460.80,140.12 L461.80,140.45 L462.80,140.78 L463.80,141.11 L464.80,141.44 L465.80,141.77 L466.80,142.11 L467.80,142.44 L468.80,142.78 L469.80,143.13 L470.80,143.48 L471.80,143.84 L472.80,144.20 L473.80,144.56 L474.80,144.93 L475.80,145.30 L476.80,145.67 L477.80,146.04 L478.80,146.41 L479.80,146.78 L480.80,147.15 L481.80,147.51 L482.80,147.87 L483.80,148.23 L484.80,148.58 L485.80,148.93 L486.80,149.27 L487.80,149.61 L488.80,149.94 L489.80,150.27 L490.80,150.60 L491.80,150.92 L492.80,151.25 L493.80,151.57 L494.80,151.89 L495.80,152.20 L496.80,152.52 L497.80,152.84 L498.80,153.16 L499.80,153.48 L500.80,153.81 L501.80,154.13 L502.80,154.46 L503.80,154.78 L504.80,155.11 L505.80,155.44 L506.80,155.77 L507.80,156.09 L508.80,156.42 L509.80,156.75 L510.80,157.08 L511.80,157.40 L512.80,157.73 L513.80,158.05 L514.80,158.37 L515.80,158.69 L516.80,159.01 L517.80,159.33 L518.80,159.64 L519.80,159.96 L520.80,160.27 L521.80,160.58 L522.80,160.89 L523.80,161.20 L524.80,161.51 L525.80,161.82 L526.80,162.13 L527.80,162.43 L528.80,162.74 L529.80,163.04 L530.80,163.34 L531.80,163.64 L532.80,163.94 L533.80,164.24 L534.80,164.53 L535.80,164.82 L536.80,165.12 L537.80,165.41 L538.80,165.69 L539.80,165.98 L540.80,166.27 L541.80,166.55 L542.80,166.84 L543.80,167.12 L544.80,167.41 L545.80,167.69 L546.80,167.97 L547.80,168.26 L548.80,168.54 L549.80,168.83 L550.80,169.11 L551.80,169.40 L552.80,169.68 L553.80,169.97 L554.80,170.25 L555.80,170.54 L556.80,170.82 L557.80,171.10 L558.80,171.38 L559.80,171.66 L560.80,171.94 L561.80,172.22 L562.80,172.50 L563.80,172.78 L564.80,173.06 L565.80,173.33 L566.80,173.61 L567.80,173.88 L568.80,174.16 L569.80,174.44 L570.80,174.71 L571.80,174.99 L572.80,175.26 L573.80,175.53 L574.80,175.80 L575.80,176.06 L576.80,176.33 L577.80,176.59 L578.80,176.85 L579.80,177.10 L580.80,177.35 L581.80,177.60 L582.80,177.84 L583.80,178.09 L584.80,178.33 L585.80,178.57 L586.80,178.81 L587.80,179.05 L588.80,179.29 L589.80,179.52 L590.80,179.75 L591.80,179.97 L592.80,180.19 L593.80,180.41 L594.80,180.62 L595.80,180.84 L596.80,181.04 L597.80,181.24 L598.80,181.44 L599.80,181.63 L600.80,181.81 L601.80,182.00 L602.80,182.18 L603.80,182.36 L604.80,182.53 L605.80,182.71 L606.80,182.88 L607.80,183.06 L608.80,183.24 L609.80,183.41 L610.80,183.59 L611.80,183.78 L612.80,183.96 L613.80,184.15 L614.80,184.35 L615.80,184.54 L616.80,184.74 L617.80,184.94 L618.80,185.15 L619.80,185.35 L620.80,185.55 L621.80,185.75 L622.80,185.95 L623.80,186.15 L624.80,186.34 L625.80,186.53 L626.80,186.72 L627.80,186.89 L628.80,187.07 L629.80,187.23 L630.80,187.39 L631.80,187.55 L632.80,187.71 L633.80,187.86 L634.80,188.01 L635.80,188.15 L636.80,188.30 L637.80,188.44 L638.80,188.58 L639.80,188.72 L640.80,188.86 L641.80,189.00 L642.80,189.14 L643.80,189.28 L644.80,189.42 L645.80,189.56 L646.80,189.69 L647.80,189.83 L648.80,189.97 L649.80,190.11 L650.80,190.24 L651.80,190.38 L652.80,190.52 L653.80,190.65 L654.80,190.78 L655.80,190.91 L656.80,191.05 L657.80,191.17 L658.80,191.30 L659.80,191.43 L660.80,191.55 L661.80,191.68 L662.80,191.80 L663.80,191.92 L664.80,192.03 L665.80,192.15 L666.80,192.27 L667.80,192.38 L668.80,192.49 L669.80,192.60 L670.80,192.71 L671.80,192.82 L672.80,192.93 L673.50,193.00" stroke="#5cc863" stroke-dasharray="16.5 16.5"/>
</g>
<g font-size="15.40" text-anchor="end">
<text transform="translate(617.3,28.00) scale(1,1.000)"><tspan font-style="italic">T</tspan>=0.10</text>
<text transform="translate(617.3,43.20) scale(1,1.000)"><tspan font-style="italic">T</tspan>=0.20</text>
<text transform="translate(617.3,58.40) scale(1,1.000)"><tspan font-style="italic">T</tspan>=0.50</text>
<text transform="translate(617.3,73.60) scale(1,1.000)"><tspan font-style="italic">T</tspan>=1.00</text>
<text transform="translate(617.3,88.80) scale(1,1.000)"><tspan font-style="italic">T</tspan>=2.00</text>
</g>
<g fill="none" stroke-width="2.20">
<path d="M625,21.10H662.4" stroke="#440154"/>
<path d="M625,36.30H662.4" stroke="#3b518b"/>
<path d="M625,51.50H662.4" stroke="#21908d"/>
<path d="M625,66.70H662.4" stroke="#27ad81"/>
<path d="M625,81.90H662.4" stroke="#5cc863" stroke-dasharray="16.5 16.5"/>
</g>
</svg>
</body></html>
